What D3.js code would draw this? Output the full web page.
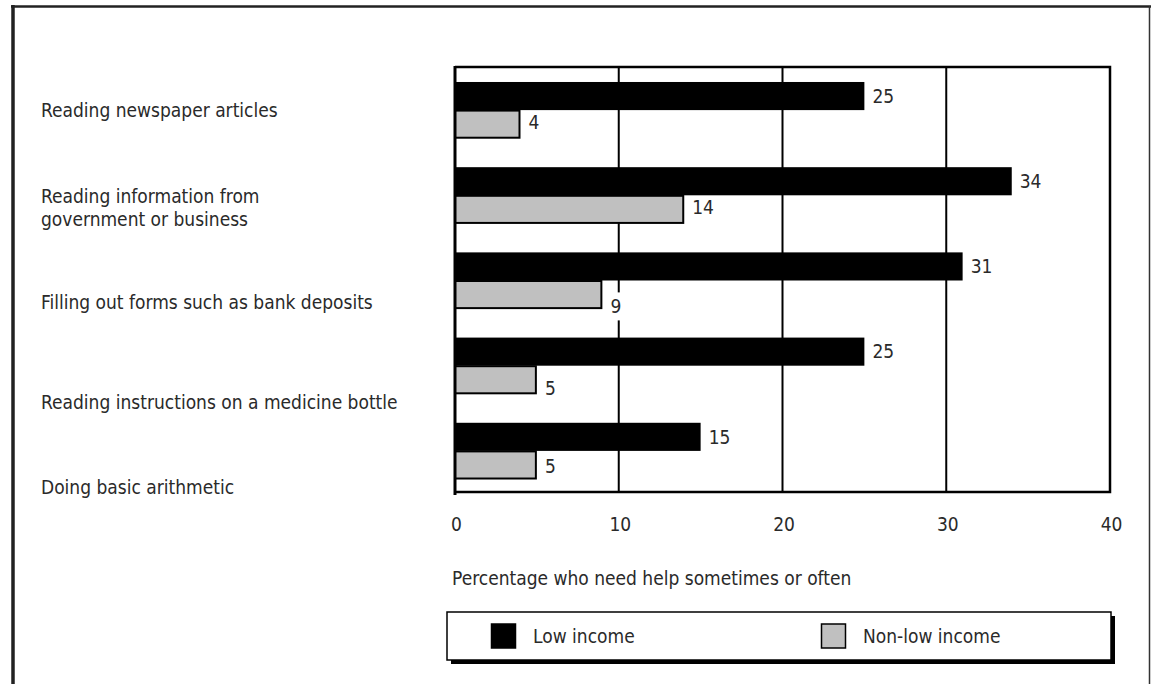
<!DOCTYPE html>
<html>
<head>
<meta charset="utf-8">
<script src="https://cdn.jsdelivr.net/npm/d3@7"></script>
<style>
  html, body { margin: 0; padding: 0; background: #fff; }
  svg { display: block; }
  text { font-family: "DejaVu Sans Condensed", "Liberation Sans Narrow", sans-serif; fill: #2a2a2a; }
</style>
</head>
<body>
<svg id="chart" width="1151" height="684"></svg>
<script>
// ---------- data ----------
const categories = [
  ["Reading newspaper articles"],
  ["Reading information from", "government or business"],
  ["Filling out forms such as bank deposits"],
  ["Reading instructions on a medicine bottle"],
  ["Doing basic arithmetic"]
];
const seriesNames = ["Low income", "Non-low income"];
const lowIncome = [25, 34, 31, 25, 15];
const nonLowIncome = [4, 14, 9, 5, 5];
const xTicks = [0, 10, 20, 30, 40];
const axisTitle = "Percentage who need help sometimes or often";

// ---------- layout (not data) ----------
const W = 1151, H = 684;
const plot = { left: 455, right: 1110, top: 67, bottom: 492 };
const catLabelNudge = [0, 12, 21, 36, 36];   // category label vertical drift in the original
const grayLabelNudge = [-2, -2, 12, 8, 1];
const FONT = 19, LS = "0px";
const colors = { "Low income": "#000000", "Non-low income": "#c0c0c0" };

const svg = d3.select("#chart");

// outer frame
svg.append("line").attr("x1", 13).attr("x2", 13).attr("y1", 5).attr("y2", H + 5)
  .attr("stroke", "#222").attr("stroke-width", 3.5);
svg.append("line").attr("x1", 11).attr("x2", 1151).attr("y1", 6.5).attr("y2", 6.5)
  .attr("stroke", "#222").attr("stroke-width", 2.5);
svg.append("line").attr("x1", 1149.5).attr("x2", 1149.5).attr("y1", 6).attr("y2", H + 5)
  .attr("stroke", "#333").attr("stroke-width", 1.5);

const data = categories.map((c, i) => ({
  cat: i, label: c,
  values: [
    { key: seriesNames[0], value: lowIncome[i] },
    { key: seriesNames[1], value: nonLowIncome[i] }
  ]
}));

const x = d3.scaleLinear().domain([0, 40]).range([plot.left, plot.right]);
const y0 = d3.scaleBand().domain(d3.range(categories.length))
  .range([plot.top + 0.5, plot.bottom + 1.5]).paddingInner(0.34).paddingOuter(0.17);
const y1 = d3.scaleBand().domain(seriesNames).range([0, y0.bandwidth()]);

// gridlines
svg.append("g").selectAll("line").data(xTicks.filter(t => t > 0 && t < 40)).join("line")
  .attr("x1", d => x(d)).attr("x2", d => x(d))
  .attr("y1", plot.top).attr("y2", plot.bottom)
  .attr("stroke", "#000").attr("stroke-width", 2);

// plot box (top, right, bottom)
svg.append("path")
  .attr("d", `M${plot.left},${plot.top}H${plot.right}V${plot.bottom}H${plot.left}`)
  .attr("fill", "none").attr("stroke", "#000").attr("stroke-width", 2.5);

// bars
const groups = svg.append("g").selectAll("g").data(data).join("g")
  .attr("transform", d => `translate(0,${y0(d.cat)})`);

groups.selectAll("rect.bar").data(d => d.values).join("rect")
  .attr("class", "bar")
  .attr("x", x(0))
  .attr("y", d => y1(d.key) + (d.key === seriesNames[1] ? 0.5 : 0))
  .attr("width", d => x(d.value) - x(0) - (d.key === seriesNames[1] ? 1 : 0))
  .attr("height", d => y1.bandwidth() - (d.key === seriesNames[1] ? 1 : 0))
  .attr("fill", d => colors[d.key])
  .attr("stroke", d => d.key === seriesNames[1] ? "#000" : "none")
  .attr("stroke-width", 2);

// value labels
groups.each(function(d) {
  const g = d3.select(this);
  d.values.forEach((v, j) => {
    const ny = j === 1 ? grayLabelNudge[d.cat] : 0;
    const t = g.append("text")
      .attr("x", x(v.value) + 8)
      .attr("y", y1(v.key) + y1.bandwidth() / 2 + ny)
      .attr("dy", "0.36em")
      .attr("font-size", FONT).attr("letter-spacing", LS)
      .text(v.value);
    if (j === 1) {
      const bb = t.node().getBBox();
      g.insert("rect", ":first-child").attr("x", bb.x - 2).attr("y", bb.y - 3)
        .attr("width", bb.width + 4).attr("height", bb.height + 6).attr("fill", "#fff");
    }
  });
});

// left axis line (thick)
svg.append("line").attr("x1", plot.left).attr("x2", plot.left)
  .attr("y1", plot.top - 1).attr("y2", plot.bottom + 3)
  .attr("stroke", "#000").attr("stroke-width", 3);

// category labels
const cl = svg.append("g").selectAll("text").data(data).join("text")
  .attr("x", 41)
  .attr("font-size", FONT).attr("letter-spacing", LS)
  .attr("y", d => y0(d.cat) + y0.bandwidth() / 2 + 7 + catLabelNudge[d.cat] - (d.label.length - 1) * 11.5);
cl.selectAll("tspan").data(d => d.label).join("tspan")
  .attr("x", 41).attr("dy", (d, i) => i === 0 ? 0 : 23.5).text(d => d);

// x axis tick labels
const xAxis = d3.axisBottom(x).tickValues(xTicks).tickSize(0).tickPadding(0).tickFormat(d3.format("d"));
const ax = svg.append("g").attr("transform", `translate(1,${plot.bottom + 39})`).call(xAxis);
ax.select(".domain").remove();
ax.attr("font-family", null).attr("font-size", null);
ax.selectAll("text").attr("dy", 0).attr("font-size", FONT).attr("letter-spacing", LS).attr("fill", null);

// axis title
svg.append("text").attr("x", 452).attr("y", 585)
  .attr("font-size", FONT).attr("letter-spacing", LS).text(axisTitle);

// legend
const lg = { x: 447, y: 612, w: 664, h: 48 };
svg.append("rect").attr("x", lg.x + 4).attr("y", lg.y + 4).attr("width", lg.w).attr("height", lg.h).attr("fill", "#000");
svg.append("rect").attr("x", lg.x).attr("y", lg.y).attr("width", lg.w).attr("height", lg.h)
  .attr("fill", "#fff").attr("stroke", "#000").attr("stroke-width", 1.5);
const legendX = [491, 821];
const li = svg.append("g").selectAll("g").data(seriesNames).join("g")
  .attr("transform", (d, i) => `translate(${legendX[i]},${lg.y + 12})`);
li.append("rect").attr("x", 0.5).attr("y", 0).attr("width", 24).attr("height", 24)
  .attr("fill", d => colors[d]).attr("stroke", "#000").attr("stroke-width", 1.5);
li.append("text").attr("x", 42).attr("y", 19)
  .attr("font-size", FONT).attr("letter-spacing", LS).text(d => d);
</script>
</body>
</html>
